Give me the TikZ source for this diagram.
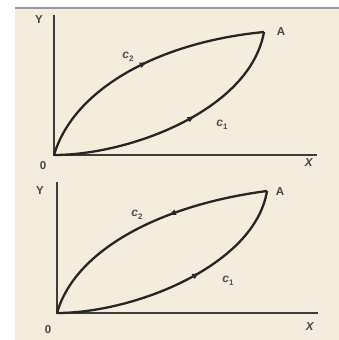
\documentclass[tikz,border=0pt]{standalone}
\usepackage{fontspec}
\setmainfont{Liberation Sans}
\usetikzlibrary{arrows.meta,decorations.markings}
\definecolor{paper}{HTML}{F4ECDC}
\definecolor{ink}{HTML}{262626}
\definecolor{edge}{HTML}{9A9A9A}
\newcommand\csub[1]{\textit{c}\raisebox{-0.45ex}{\fontsize{8}{9}\selectfont #1}}
\tikzset{
  axis/.style={draw=ink!90, line width=1.9pt},
  curve/.style={draw=ink, line width=2.3pt},
  lbl/.style={text=ink!85, inner sep=0pt, font=\bfseries\fontsize{11.5}{13}\selectfont},
  clbl/.style={text=ink!80, inner sep=0pt, font=\bfseries\fontsize{12}{13}\selectfont},
  fwd/.style={postaction={decorate}, decoration={markings,
      mark=at position #1 with {\arrow{Latex[length=8pt,width=6pt]}}}},
  bwd/.style={postaction={decorate}, decoration={markings,
      mark=at position #1 with {\arrowreversed{Latex[length=8pt,width=6pt]}}}}
}
\begin{document}
\begin{tikzpicture}[x=1pt,y=-1pt]
\useasboundingbox (0,0) rectangle (339,340);
\fill[white] (0,0) rectangle (339,340);
\fill[paper] (15,8) rectangle (339,340);
\draw[edge, line width=1.4pt] (15,8) -- (339,8);

% ---------- top diagram ----------
\coordinate (O1) at (54,155);
\coordinate (Y1) at (54,15);
\coordinate (X1) at (317,155);
\coordinate (A1) at (264,32);
\draw[axis] (Y1) -- (O1) -- (X1);
\draw[curve, fwd=0.53] (O1) .. controls (74,88) and (160,42) .. (A1);
\draw[curve, fwd=0.57] (O1) .. controls (130,155) and (250,110) .. (A1);
\node[lbl] (ty) at (39,20) {Y};
\node[lbl] (to) at (43,166) {0};
\node[lbl] (tx) at (309,163) {\textit{X}};
\node[lbl] (ta) at (281,32) {A};
\node[clbl] (tc2) at (128,57) {\csub{2}};
\node[clbl] (tc1) at (222,125) {\csub{1}};

% ---------- bottom diagram ----------
\coordinate (O2) at (57,313);
\coordinate (Y2) at (57,182);
\coordinate (X2) at (318,313);
\coordinate (A2) at (267,191);
\draw[axis] (Y2) -- (O2) -- (X2);
\draw[curve, bwd=0.6] (O2) .. controls (75,250) and (160,205) .. (A2);
\draw[curve, fwd=0.58] (O2) .. controls (135,313) and (255,265) .. (A2);
\node[lbl] (by) at (40,191) {Y};
\node[lbl] (bo) at (48,330) {0};
\node[lbl] (bx) at (310,327) {\textit{X}};
\node[lbl] (ba) at (280,192) {A};
\node[clbl] (bc2) at (137,215) {\csub{2}};
\node[clbl] (bc1) at (228,281) {\csub{1}};
\end{tikzpicture}
\end{document}
